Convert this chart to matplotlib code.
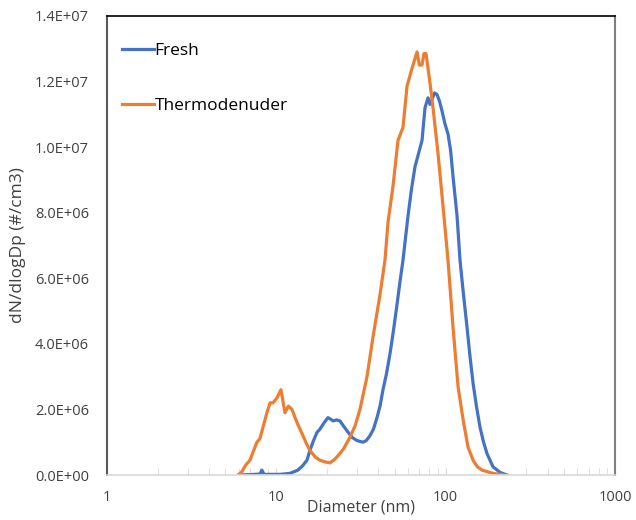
import numpy as np
import matplotlib.pyplot as plt
from matplotlib.ticker import LogLocator, FixedLocator, NullFormatter

plt.rcParams['font.family'] = ['Open Sans', 'DejaVu Sans']

# ---- data (diameter in nm, dN/dlogDp in #/cm3) ----
fresh_d = [6.1, 7.48, 8.01, 8.23, 8.46, 10.5, 12.05, 13.44, 14.3, 15.18, 15.81, 16.6, 17.4, 18.12,
           19.2, 20.2, 21.0, 21.62, 22.7, 23.78, 24.9, 26.16, 28.0, 29.99, 32.52, 34.0, 35.77,
           37.5, 39.34, 41.0, 42.68, 44.8, 46.95, 49.2, 51.64, 53.8, 56.02, 59.97, 62.8, 65.96,
           72.55, 75.57, 78.71, 80.9, 83.12, 86.0, 88.98, 92.0, 95.21, 99.2, 103.3, 107.0,
           110.6, 116.8, 121.6, 127.5, 133.8, 139.4, 145.2, 152.0, 159.7, 167.5, 175.6, 190.5,
           209.6, 230.5]
fresh_n = [0, 0.02, 0.03, 0.15, 0.02, 0.02, 0.05, 0.15, 0.28, 0.45, 0.75, 1.05, 1.3, 1.4,
           1.6, 1.75, 1.7, 1.65, 1.68, 1.65, 1.5, 1.35, 1.15, 1.05, 1.0, 1.05, 1.2,
           1.4, 1.75, 2.1, 2.6, 3.1, 3.7, 4.4, 5.2, 5.9, 6.55, 7.9, 8.7, 9.4,
           10.2, 11.2, 11.5, 11.3, 11.45, 11.65, 11.6, 11.4, 11.1, 10.7, 10.4, 9.9,
           9.1, 7.9, 6.55, 5.5, 4.5, 3.6, 2.8, 2.1, 1.45, 1.0, 0.65, 0.25,
           0.08, 0]

td_d = [5.94, 6.27, 6.6, 6.99, 7.3, 7.69, 8.0, 8.4, 8.81, 9.2, 9.56, 10.1, 10.66, 11.26,
        11.8, 12.38, 13.26, 14.38, 15.1, 15.81, 17.0, 18.12, 19.4, 20.76, 21.8, 22.83,
        25.0, 27.24, 29.2, 31.22, 34.35, 37.25, 40.98, 43.85, 45.68, 48.9, 52.34, 56.02,
        59.16, 63.33, 67.78, 70.0, 72.55, 74.5, 76.6, 80.88, 84.25, 90.2, 96.5, 103.3,
        110.6, 118.4, 126.7, 135.6, 145.2, 154.0, 164.1, 190.5, 224.3]
td_n = [0, 0.1, 0.3, 0.45, 0.7, 1.0, 1.1, 1.5, 1.9, 2.2, 2.2, 2.35, 2.6, 1.9,
        2.1, 2.0, 1.6, 1.2, 0.95, 0.75, 0.55, 0.45, 0.4, 0.37, 0.45, 0.55,
        0.8, 1.15, 1.5, 2.0, 3.0, 4.2, 5.5, 6.55, 7.7, 8.8, 10.2, 10.6,
        11.85, 12.4, 12.9, 12.5, 12.5, 12.85, 12.85, 11.95, 11.2, 9.8, 8.2, 6.55,
        4.5, 2.7, 1.7, 0.85, 0.45, 0.25, 0.15, 0.05, 0]

fresh_n = np.array(fresh_n) * 1e6
td_n = np.array(td_n) * 1e6

yticks = np.arange(0, 1.41e7, 2e6)
ylabels = ['0.0E+00', '2.0E+06', '4.0E+06', '6.0E+06', '8.0E+06', '1.0E+07', '1.2E+07', '1.4E+07']

#-------------------------------- figure ----------------------------------
fig = plt.figure(figsize=(6.36, 5.2), dpi=100)
ax = fig.add_axes([0.168, 0.0865, 0.799, 0.883])

ax.plot(fresh_d, fresh_n, color='#4472C4', lw=2.3, label='Fresh')
ax.plot(td_d, td_n, color='#ED7D31', lw=2.3, label='Thermodenuder')

ax.set_xscale('log')
ax.set_xlim(1, 1000)
ax.set_ylim(0, 1.4e7)

ax.xaxis.set_major_locator(FixedLocator([1, 10, 100, 1000]))
ax.set_xticklabels(['1', '10', '100', '1000'])
ax.xaxis.set_minor_locator(LogLocator(base=10, subs=np.arange(2, 10)))
ax.xaxis.set_minor_formatter(NullFormatter())
ax.tick_params(axis='x', which='both', direction='in', length=5, color='#D9D9D9',
               labelsize=10.5, labelcolor='#404040', pad=11)

ax.set_yticks(yticks)
ax.set_yticklabels(ylabels)
ax.tick_params(axis='y', length=0, labelsize=10.5, labelcolor='#404040', pad=13)

ax.spines['left'].set_color('#595959')
ax.spines['left'].set_linewidth(1.5)
ax.spines['top'].set_color('black')
ax.spines['top'].set_linewidth(1.2)
ax.spines['right'].set_color('#7F7F7F')
ax.spines['right'].set_linewidth(1.5)
ax.spines['bottom'].set_color('#D9D9D9')
ax.spines['bottom'].set_linewidth(1.2)

ax.set_xlabel('Diameter (nm)', fontsize=11.5, color='#404040', labelpad=-4)
ax.set_ylabel('dN/dlogDp (#/cm3)', fontsize=12.5, color='#404040', labelpad=6)

ax.legend(loc='upper left', frameon=False, fontsize=12.5, handlelength=1.8,
          handletextpad=0.05, labelspacing=2.25, borderaxespad=0.5,
          bbox_to_anchor=(0.0, 0.975))

fig.savefig('out.png', dpi=100)
